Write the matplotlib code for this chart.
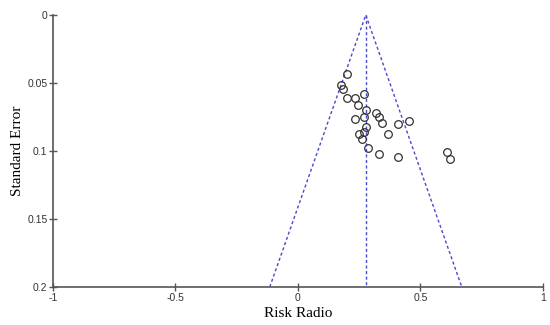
import numpy as np
import matplotlib
matplotlib.use('Agg')
import matplotlib.pyplot as plt

# effect sizes and standard errors
rr = [0.199, 0.174, 0.185, 0.199, 0.235, 0.271, 0.246, 0.278, 0.318, 0.332,
      0.269, 0.235, 0.343, 0.407, 0.452, 0.278, 0.271, 0.250, 0.261, 0.369,
      0.287, 0.332, 0.408, 0.608, 0.620]
se = [0.0434, 0.0512, 0.0544, 0.0613, 0.0613, 0.0581, 0.0662, 0.0699, 0.0718, 0.0748,
      0.0748, 0.0767, 0.0794, 0.0799, 0.0777, 0.0824, 0.0863, 0.0877, 0.0910, 0.0873,
      0.0978, 0.1022, 0.1044, 0.1010, 0.1056]
pooled = 0.277
se_max = 0.2

xticks = [-1, -0.5, 0, 0.5, 1]
xticklabels = ['-1', '-0.5', '0', '0.5', '1']
yticks = [0, 0.05, 0.1, 0.15, 0.2]
yticklabels = ['0', '0.05', '0.1', '0.15', '0.2']

fig = plt.figure(figsize=(5.5, 3.25), dpi=100)
ax = fig.add_axes([0.0964, 0.117, 0.8906, 0.837])

blue = '#4848cc'
ax.plot([pooled - 1.96 * se_max, pooled, pooled + 1.96 * se_max], [se_max, 0, se_max],
        color=blue, ls=(0, (2.2, 1.8)), lw=1)
ax.plot([pooled, pooled], [0, se_max], color=blue, ls=(0, (2.2, 1.8)), lw=1)
ax.plot(rr, se, 'o', mfc='none', mec='#333333', ms=5.5, mew=0.9)

ax.set_xlim(-1, 1)
ax.set_ylim(0.2, 0)
ax.set_xticks(xticks)
ax.set_xticklabels(xticklabels)
ax.set_yticks(yticks)
ax.set_yticklabels(yticklabels)
for s in ['top', 'right']:
    ax.spines[s].set_visible(False)
for s in ['left', 'bottom']:
    ax.spines[s].set_color('#555555')
    ax.spines[s].set_linewidth(1.2)
ax.tick_params(direction='inout', length=6, width=1, color='#555555', labelsize=7.5,
               labelcolor='#333333', pad=1)
for lab in ax.get_xticklabels() + ax.get_yticklabels():
    lab.set_fontfamily('Liberation Sans')

ax.set_xlabel('Risk Radio', fontfamily='Liberation Serif', fontsize=11, labelpad=3)
ax.set_ylabel('Standard Error', fontfamily='Liberation Serif', fontsize=11, labelpad=2)

plt.savefig('out.png', dpi=100)
